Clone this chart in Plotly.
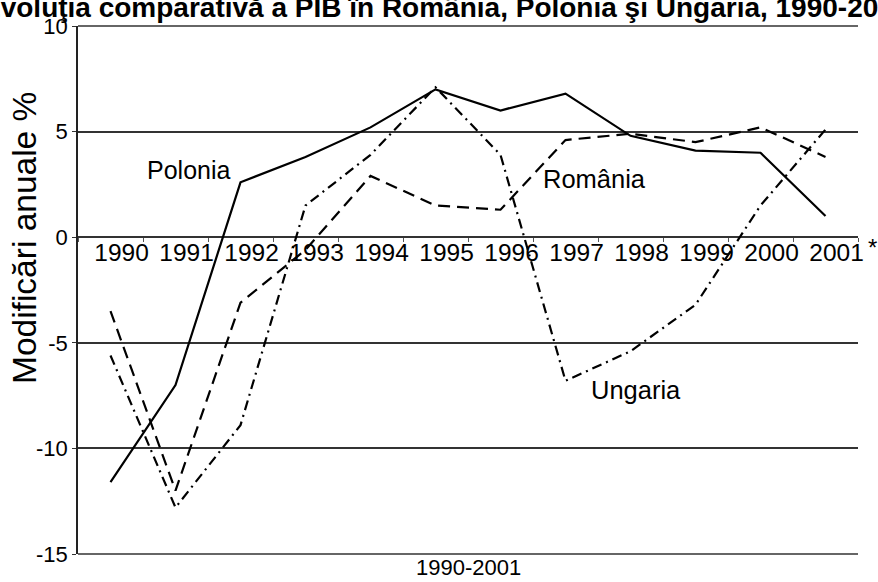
import plotly.graph_objects as go

years = ["1990", "1991", "1992", "1993", "1994", "1995", "1996", "1997", "1998", "1999", "2000", "2001"]
polonia = [-11.6, -7.0, 2.6, 3.8, 5.2, 7.0, 6.0, 6.8, 4.8, 4.1, 4.0, 1.0]
romania = [-3.5, -12.0, -3.1, -0.6, 2.9, 1.5, 1.3, 4.6, 4.9, 4.5, 5.2, 3.8]
ungaria = [-5.6, -12.8, -8.9, 1.5, 3.9, 7.1, 3.9, -6.8, -5.4, -3.2, 1.5, 5.1]
y_ticks = [-15, -10, -5, 0, 5, 10]

FONT = "Liberation Sans, Arial, sans-serif"
L, R, T, B = 78, 20, 26, 28
W, H = 878, 582
PW, PH = W - L - R, H - T - B

def px_x(p):
    return (p - L) / PW

def px_y(p):
    return (H - B - p) / PH

fig = go.Figure()
fig.add_trace(go.Scatter(x=years, y=polonia, mode="lines", name="Polonia",
                         line=dict(color="black", width=2.2)))
fig.add_trace(go.Scatter(x=years, y=romania, mode="lines", name="România",
                         line=dict(color="black", width=2.2, dash="12px,7px")))
fig.add_trace(go.Scatter(x=years, y=ungaria, mode="lines", name="Ungaria",
                         line=dict(color="black", width=2.2, dash="10px,5px,2px,5px")))

fig.update_layout(
    width=W, height=H,
    margin=dict(l=L, r=R, t=T, b=B, autoexpand=False),
    paper_bgcolor="white", plot_bgcolor="white",
    showlegend=False,
    font=dict(family=FONT, color="black"),
    xaxis=dict(
        type="category", range=[-0.5, 11.5], anchor="free", position=px_y(237),
        showgrid=False, zeroline=False, showline=False,
        ticks="outside", tickson="boundaries", ticklen=4, tickcolor="#555",
        tickfont=dict(size=24.5, family=FONT, color="black"),
        ticklabelshift=11, ticklabelstandoff=-2,
    ),
    yaxis=dict(
        range=[-15, 10], tickvals=y_ticks, ticktext=[str(v) for v in y_ticks],
        showgrid=True, gridcolor="#333", gridwidth=1.6,
        zeroline=True, zerolinecolor="#333", zerolinewidth=1.6,
        showline=True, linecolor="#222", linewidth=1.6,
        ticks="outside", ticklen=4, tickcolor="#333",
        tickfont=dict(size=22, family=FONT, color="black"),
    ),
)

# frame lines at the top and bottom of the plot area (edge gridlines)
for v in (0, 1):
    fig.add_shape(type="line", xref="paper", yref="paper", x0=0, x1=1, y0=v, y1=v,
                  line=dict(color="#333", width=1.6), layer="above")

ann = []
ann.append(dict(text="<b>Evoluţia comparativă a PIB în România, Polonia şi Ungaria, 1990-2001</b>",
                xref="paper", yref="paper", x=px_x(445), y=px_y(7), xanchor="center", yanchor="middle",
                showarrow=False, font=dict(size=28, family=FONT, color="black")))
ann.append(dict(text="Modificări anuale %", xref="paper", yref="paper", x=px_x(24), y=px_y(238),
                xanchor="center", yanchor="middle", textangle=-90, showarrow=False,
                font=dict(size=33.5, family=FONT, color="black")))
ann.append(dict(text="1990-2001", xref="paper", yref="paper", x=px_x(468), y=px_y(567),
                xanchor="center", yanchor="middle", showarrow=False,
                font=dict(size=22, family=FONT, color="black")))
ann.append(dict(text="*", xref="paper", yref="paper", x=px_x(872), y=px_y(248),
                xanchor="center", yanchor="middle", showarrow=False,
                font=dict(size=24, family=FONT, color="black")))
ann.append(dict(text="Polonia", xref="paper", yref="paper", x=px_x(188), y=px_y(170),
                xanchor="center", yanchor="middle", showarrow=False,
                font=dict(size=25, family=FONT, color="black")))
ann.append(dict(text="România", xref="paper", yref="paper", x=px_x(594), y=px_y(179),
                xanchor="center", yanchor="middle", showarrow=False,
                font=dict(size=25.5, family=FONT, color="black")))
ann.append(dict(text="Ungaria", xref="paper", yref="paper", x=px_x(636), y=px_y(390),
                xanchor="center", yanchor="middle", showarrow=False,
                font=dict(size=25.5, family=FONT, color="black")))
fig.update_layout(annotations=ann)

fig.write_html("out.html", config={"displayModeBar": False},
               post_script="document.body.style.margin='0';document.body.style.overflow='hidden';")
